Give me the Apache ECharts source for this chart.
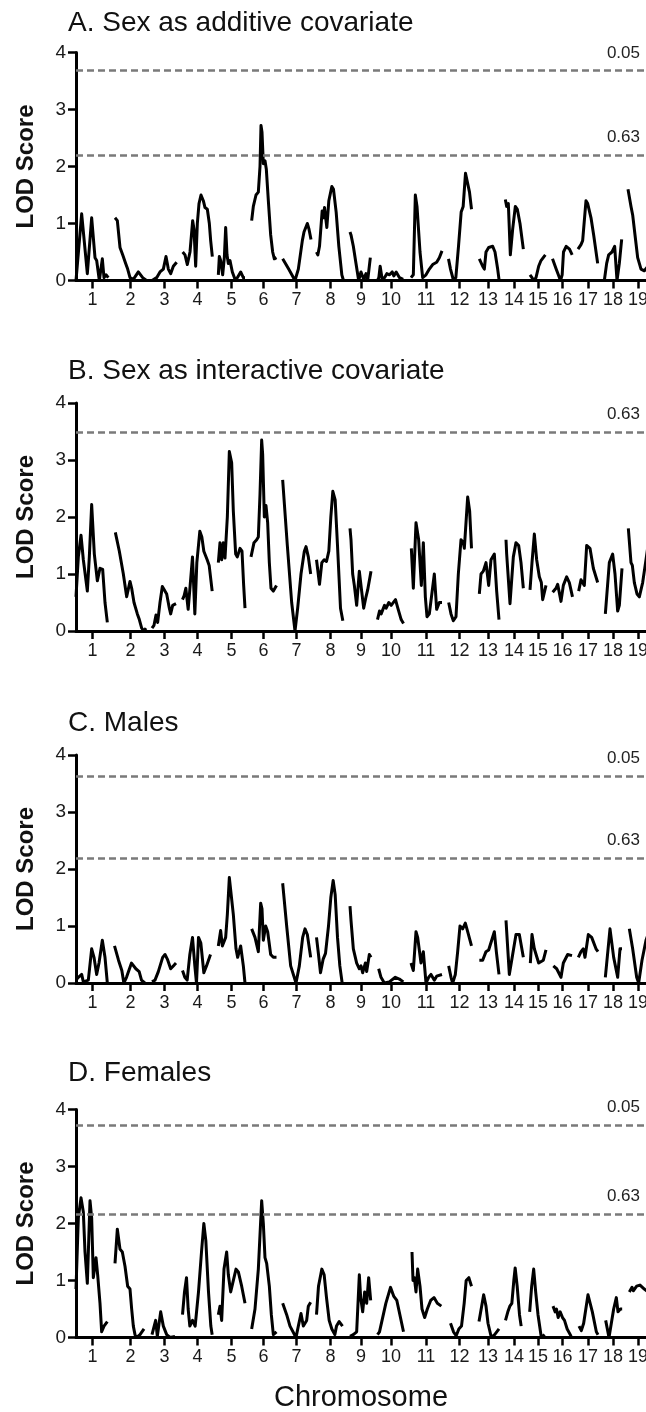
<!DOCTYPE html>
<html><head><meta charset="utf-8">
<script src="https://cdn.jsdelivr.net/npm/echarts@6/dist/echarts.min.js"></script>
<style>html,body{margin:0;padding:0;background:#fff}#c{width:646px;height:1412px}</style>
</head><body><div id="c"></div><script>
// ---------- data ----------
const chromNames = ['1','2','3','4','5','6','7','8','9','10','11','12','13','14','15','16','17','18','19'];
const chromLengths = [99,96,75,90,81,78,87,84,66,81,96,72,66,57,54,60,60,57,60]; // cM
const chromGap = 16.5;      // cM gap drawn between chromosomes
const genomeAxisMax = 1710; // right end of the visible axis (cM)
const lodTicks = [0, 1, 2, 3, 4];
const panelTitles = ['A. Sex as additive covariate', 'B. Sex as interactive covariate', 'C. Males', 'D. Females'];
const thresholdValuesA = [3.68, 2.20];
const thresholdLabelsA = ['0.05', '0.63'];
const thresholdValuesB = [3.49];
const thresholdLabelsB = ['0.63'];
const thresholdValuesC = [3.63, 2.19];
const thresholdLabelsC = ['0.05', '0.63'];
const thresholdValuesD = [3.73, 2.17];
const thresholdLabelsD = ['0.05', '0.63'];

// LOD profiles: per chromosome, [position within chromosome (cM), LOD]
const panelA = [
 [[0,0.0],[17,1.17],[34,0.12],[47,1.1],[57,0.4],[62,0.35],[70,0.0],[79,0.38],[84,0.05],[90,0.1],[97,0.05]],
 [[1.5,1.1],[8.5,1.05],[16.5,0.58],[24.5,0.45],[33.5,0.3],[39.5,0.2],[46.5,0.05],[56.5,0.02],[71.5,0.15],[84.5,0.05],[96,0.0]],
 [[0,0.0],[14,0.05],[24,0.15],[34,0.2],[42,0.42],[49,0.2],[56,0.12],[64,0.25],[74,0.32]],
 [[0.5,0.5],[7.5,0.45],[14.5,0.28],[22.5,0.5],[30.5,1.05],[34.5,0.9],[39.5,0.25],[44.5,1.0],[49.5,1.35],[55.5,1.5],[62.5,1.4],[67.5,1.28],[74.5,1.25],[80.5,1.0],[84.5,0.7],[89.5,0.42]],
 [[1,0.1],[4,0.42],[8,0.35],[14,0.1],[19,0.4],[23,0.93],[27,0.45],[31,0.3],[36,0.35],[43,0.15],[51,0.02],[58,0.05],[68,0.15],[76,0.05],[81,0.05]],
 [[3.5,1.05],[8.5,1.3],[16.5,1.5],[23.5,1.55],[28.5,2.0],[31.5,2.72],[34.5,2.6],[38.5,2.05],[43.5,2.1],[47.5,1.95],[53.5,1.4],[60.5,0.8],[66.5,0.5],[71.5,0.38],[78,0.4]],
 [[2,0.38],[20,0.2],[39,0.0],[49,0.2],[61,0.7],[66,0.85],[76,1.0],[81,0.9],[87,0.72]],
 [[0,0.5],[4,0.45],[9,0.6],[17,1.22],[21,1.1],[24,1.28],[31,0.93],[37,1.4],[46,1.65],[51,1.6],[59,1.2],[67,0.6],[76,0.1],[81,0.0]],
 [[0,0.85],[3,0.8],[10,0.6],[18,0.3],[26,0.0],[33,0.15],[41,0.02],[48,0.12],[53,0.0],[61,0.4]],
 [[0,0.0],[4,0.05],[8,0.25],[14,0.02],[21,0.05],[28,0.12],[36,0.1],[44,0.15],[49,0.08],[56,0.15],[66,0.05],[77,0.02]],
 [[3,0.05],[10,0.1],[16,1.5],[21,1.3],[30,0.5],[38,0.05],[48,0.1],[58,0.2],[68,0.28],[80,0.32],[88,0.4],[96,0.52]],
 [[3,0.38],[9,0.2],[18,0.0],[25,0.05],[33,0.6],[41,1.2],[47,1.3],[54,1.88],[60,1.9],[66,1.55],[72,1.25]],
 [[7,0.38],[17,0.25],[22,0.2],[27,0.5],[35,0.58],[47,0.6],[54,0.5],[62,0.2],[66,0.02]],
 [[2.5,1.42],[6.5,1.3],[11.5,1.35],[17.5,0.45],[24.5,0.9],[32.5,1.3],[38.5,1.25],[46.5,1.0],[56.5,0.55]],
 [[3,0.1],[9,0.05],[13,0.0],[21,0.05],[29,0.25],[36,0.35],[49,0.45]],
 [[0,0.38],[11,0.2],[24,0.0],[29,0.1],[33,0.5],[41,0.6],[51,0.55],[59,0.45]],
 [[0,0.55],[9,0.63],[14,0.7],[24,1.4],[29,1.35],[39,1.1],[47,0.8],[59,0.3]],
 [[2.5,0.0],[9.5,0.3],[15.5,0.45],[25.5,0.5],[33.5,0.6],[40.5,0.0],[47.5,0.3],[54.5,0.72]],
 [[0,1.6],[9,1.3],[14,1.15],[22,0.75],[29,0.4],[39,0.2],[49,0.17],[60,0.25]]
];
const panelB = [
 [[0,0.6],[7,1.3],[15,1.68],[22,1.25],[34,0.7],[40,1.3],[47,2.22],[55,1.35],[64,0.88],[72,1.1],[80,1.08],[87,0.5],[94,0.15]],
 [[2.5,1.73],[14.5,1.4],[26.5,1.0],[36.5,0.6],[46.5,0.87],[51.5,0.75],[58.5,0.5],[68.5,0.3],[74.5,0.2],[81.5,0.05],[88.5,0.0],[94.5,0.05]],
 [[0,0.05],[6,0.1],[12,0.28],[17,0.15],[24,0.5],[31,0.78],[37,0.8],[44,0.65],[52,0.4],[56,0.3],[62,0.45],[72,0.48]],
 [[0,0.55],[5,0.62],[10,0.75],[17,0.38],[23,0.8],[30,1.3],[37,0.3],[43,1.2],[52,1.75],[58,1.65],[64,1.4],[74,1.25],[80,1.15],[89,0.7]],
 [[1,1.2],[6,1.55],[11,1.25],[16,1.55],[21,1.28],[28,2.0],[34,3.15],[41,2.95],[46,2.1],[53,1.35],[58,1.3],[66,1.45],[72,1.4],[77,0.8],[81,0.4]],
 [[1.5,1.3],[10.5,1.55],[18.5,1.6],[23.5,1.65],[28.5,2.4],[33.5,3.35],[36.5,3.1],[41.5,2.0],[46.5,2.2],[51.5,1.9],[56.5,1.2],[61.5,0.75],[68.5,0.7],[78,0.8]],
 [[2,2.65],[16,1.5],[29,0.5],[39,0.0],[47,0.4],[57,1.0],[67,1.4],[72,1.48],[79,1.3],[86,1.0]],
 [[0,1.25],[9,0.82],[16,1.2],[23,1.25],[30,1.22],[37,1.4],[43,2.0],[49,2.45],[56,2.3],[63,1.5],[72,0.4],[79,0.18]],
 [[0,1.8],[3,1.6],[8,1.0],[13,0.8],[20,0.45],[28,1.05],[35,0.7],[41,0.4],[48,0.6],[53,0.72],[63,1.05]],
 [[0,0.2],[6,0.35],[11,0.3],[21,0.45],[26,0.4],[34,0.5],[41,0.45],[54,0.55],[61,0.4],[71,0.2],[78,0.13]],
 [[4,1.45],[10,0.75],[18,1.9],[26,1.6],[34,0.8],[40,1.55],[46,0.6],[51,0.25],[58,0.3],[73,1.0],[80,0.38],[88,0.5],[96,0.5]],
 [[3.5,0.5],[10.5,0.3],[17.5,0.18],[25.5,0.25],[32.5,1.0],[40.5,1.6],[47.5,1.55],[50.5,1.45],[60.5,2.35],[66.5,2.1],[72,1.45]],
 [[7,0.65],[12,1.0],[19,1.05],[27,1.2],[35,0.8],[42,1.25],[52,1.35],[59,0.7],[66,0.2]],
 [[4.5,1.6],[6.5,1.35],[16.5,0.48],[26.5,1.3],[34.5,1.55],[42.5,1.5],[49.5,1.2],[56.5,0.75]],
 [[3,0.72],[9,1.2],[16,1.7],[23,1.25],[31,0.95],[37,0.85],[41,0.55],[51,0.8]],
 [[0.5,0.68],[10.5,0.75],[15.5,0.82],[25.5,0.52],[32.5,0.8],[42.5,0.95],[50.5,0.85],[60,0.6]],
 [[2,0.7],[9,0.9],[19,0.8],[26,1.5],[36,1.45],[46,1.1],[59,0.85]],
 [[5.5,0.3],[17.5,1.2],[27.5,1.35],[34.5,1.0],[42.5,0.35],[47.5,0.45],[55.5,1.1]],
 [[1,1.8],[9,1.2],[13,1.15],[19,0.85],[27,0.65],[34,0.6],[44,0.85],[54,1.25],[60,1.5]]
];
const panelC = [
 [[0,0.05],[7,0.1],[17,0.15],[22,0.02],[37,0.05],[47,0.6],[54,0.45],[62,0.15],[69,0.35],[79,0.75],[87,0.45],[94,0.0]],
 [[0,0.65],[12,0.4],[22,0.22],[28,0.0],[36,0.1],[51,0.35],[64,0.25],[74,0.2],[81,0.05],[91,0.0]],
 [[0,0.02],[9,0.05],[19,0.2],[32,0.45],[39,0.5],[46,0.42],[56,0.25],[64,0.3],[72,0.35]],
 [[0,0.22],[7,0.1],[14,0.05],[22,0.5],[30,0.8],[37,0.3],[42,0.0],[48,0.8],[55,0.7],[64,0.18],[72,0.3],[84,0.5]],
 [[1,0.65],[8,0.92],[13,0.65],[18,0.65],[23,0.8],[28,1.2],[34,1.85],[39,1.88],[46,1.2],[54,0.6],[59,0.45],[68,0.65],[76,0.3],[81,0.0]],
 [[3.5,0.95],[13.5,0.8],[23.5,0.55],[30.5,1.4],[34.5,1.3],[38.5,0.75],[45.5,1.0],[51.5,0.9],[60.5,0.5],[68.5,0.45],[78,0.45]],
 [[2,1.75],[14,1.0],[26,0.3],[42,0.0],[52,0.3],[62,0.8],[69,0.95],[76,0.85],[86,0.45]],
 [[0,0.8],[6,0.5],[12,0.18],[20,0.42],[27,0.52],[36,1.0],[43,1.5],[50,1.8],[56,1.55],[63,0.8],[70,0.3],[77,0.0]],
 [[0,1.35],[3,1.1],[10,0.6],[20,0.35],[28,0.25],[33,0.3],[38,0.18],[46,0.35],[50,0.2],[58,0.5],[63,0.45]],
 [[3.5,0.25],[10.5,0.1],[20.5,0.0],[35.5,0.02],[53.5,0.1],[65.5,0.07],[77.5,0.02]],
 [[3,0.35],[10,0.22],[18,0.9],[23,0.8],[33,0.35],[40,0.55],[48,0.0],[56,0.1],[63,0.15],[73,0.05],[80,0.12],[96,0.15]],
 [[3.5,0.3],[10.5,0.1],[15.5,0.0],[23.5,0.15],[30.5,0.55],[37.5,1.0],[45.5,0.95],[53.5,1.05],[60.5,0.9],[72,0.65]],
 [[7,0.4],[17,0.4],[27,0.55],[35,0.58],[52,0.9],[58,0.55],[66,0.15]],
 [[4.5,1.1],[14.5,0.15],[24.5,0.5],[34.5,0.85],[44.5,0.85],[56.5,0.45]],
 [[4,0.35],[9,0.85],[16,0.6],[29,0.35],[43,0.4],[51,0.58]],
 [[2.5,0.3],[12.5,0.25],[25.5,0.1],[32.5,0.35],[45.5,0.5],[58.5,0.48]],
 [[1,0.45],[9,0.55],[16,0.6],[21,0.45],[31,0.85],[41,0.8],[54,0.6],[60,0.55]],
 [[5.5,0.1],[19.5,0.95],[30.5,0.45],[42.5,0.1],[49.5,0.6],[55.5,0.6]],
 [[4,0.95],[14,0.6],[26,0.1],[32,0.0],[42,0.4],[54,0.75],[60,0.85]]
];
const panelD = [
 [[0,0.85],[7,2.1],[15,2.45],[22,2.2],[27,1.5],[34,0.95],[42,2.4],[47,2.1],[52,1.05],[60,1.4],[65,1.1],[72,0.6],[77,0.1],[84,0.2],[94,0.28]],
 [[1.5,1.3],[8.5,1.9],[16.5,1.55],[23.5,1.5],[31.5,1.25],[39.5,0.9],[46.5,0.85],[51.5,0.5],[56.5,0.2],[61.5,0.05],[66.5,0.0],[76.5,0.05],[88.5,0.15]],
 [[0,0.05],[6,0.05],[11,0.3],[16,0.02],[26,0.45],[34,0.2],[44,0.05],[54,0.0],[69,0.02]],
 [[0,0.4],[6,0.8],[12,1.05],[17,0.5],[22,0.2],[30,0.3],[38,0.2],[48,0.8],[57,1.5],[64,2.0],[70,1.7],[78,0.8],[85,0.2],[89,0.05]],
 [[1,0.4],[6,0.55],[11,0.3],[18,1.2],[26,1.5],[31,1.1],[38,0.8],[44,0.95],[54,1.2],[61,1.15],[71,0.9],[81,0.6]],
 [[3.5,0.15],[13.5,0.5],[23.5,1.2],[28.5,1.8],[33.5,2.4],[38.5,2.0],[43.5,1.4],[48.5,1.3],[56.5,0.9],[62.5,0.4],[68.5,0.05],[78,0.1]],
 [[2,0.6],[14,0.4],[24,0.2],[42,0.0],[49,0.2],[57,0.42],[64,0.2],[74,0.3],[79,0.55],[86,0.62]],
 [[0,0.4],[6,0.9],[16,1.2],[23,1.1],[30,0.7],[38,0.3],[46,0.15],[55,0.05],[60,0.2],[68,0.28],[78,0.2]],
 [[0,0.02],[10,0.05],[20,0.1],[28,1.1],[32,0.7],[38,0.45],[44,0.8],[50,0.6],[56,1.05],[62,0.65]],
 [[0,0.05],[6,0.1],[25,0.6],[39,0.88],[49,0.72],[58,0.65],[78,0.1]],
 [[6,1.5],[9,1.0],[13,1.05],[18,0.8],[23,1.2],[30,0.9],[36,0.5],[44,0.35],[52,0.5],[62,0.65],[72,0.7],[82,0.6],[94,0.55]],
 [[9,0.25],[18,0.1],[26,0.03],[34,0.15],[42,0.2],[50,0.6],[56,1.0],[64,1.05],[72,0.9]],
 [[6,0.28],[20,0.75],[27,0.55],[33,0.25],[43,0.0],[53,0.05],[66,0.15]],
 [[3,0.3],[10,0.45],[16,0.55],[22,0.6],[28,1.0],[32,1.22],[38,0.9],[45,0.4],[50,0.2]],
 [[2,0.45],[8,0.9],[14,1.2],[20,0.8],[27,0.4],[37,0.0],[47,0.05]],
 [[1.5,0.55],[8,0.45],[12,0.5],[17,0.35],[23,0.45],[30,0.35],[36,0.3],[44,0.15],[56,0.02]],
 [[3,0.2],[10,0.12],[17,0.25],[30,0.75],[43,0.45],[55,0.1],[60,0.05]],
 [[6.5,0.3],[16.5,0.0],[30.5,0.5],[38.5,0.7],[43.5,0.45],[50.5,0.5],[56,0.5]],
 [[4,0.8],[12,0.88],[16,0.82],[26,0.9],[36,0.92],[49,0.85],[60,0.8]]
];

// ---------- layout / style ----------
const FONT = "'Liberation Sans', Arial, Helvetica, sans-serif";
const panels = [panelA, panelB, panelC, panelD];
const thrVals = [thresholdValuesA, thresholdValuesB, thresholdValuesC, thresholdValuesD];
const thrLabs = [thresholdLabelsA, thresholdLabelsB, thresholdLabelsC, thresholdLabelsD];
const gridTops = [52.5, 403, 755, 1109.5];
const titleTops = [9, 357, 709, 1059];
const GRID_H = 228, GRID_L = 76;

const chromStarts = [];
chromLengths.forEach((L, i) => {
  chromStarts.push(i === 0 ? 0 : chromStarts[i - 1] + chromLengths[i - 1] + chromGap);
});
const chromMids = chromStarts.map((s, i) => s + chromLengths[i] / 2);
function chromLabel(v) {
  let best = 0, d = Infinity;
  chromMids.forEach((m, i) => { if (Math.abs(m - v) < d) { d = Math.abs(m - v); best = i; } });
  return chromNames[best];
}

const option = { animation: false, backgroundColor: '#fff', title: [], grid: [], xAxis: [], yAxis: [], series: [] };

panels.forEach((panel, p) => {
  option.title.push({ text: panelTitles[p], left: 68, top: titleTops[p], padding: 0,
    textStyle: { fontFamily: FONT, fontSize: 28, fontWeight: 'normal', color: '#111' } });
  option.grid.push({ left: GRID_L, right: 0, top: gridTops[p], height: GRID_H, containLabel: false, outerBoundsMode: 'none' });
  option.xAxis.push({
    gridIndex: p, type: 'value', min: 0, max: genomeAxisMax,
    axisLine: { show: true, onZero: false, lineStyle: { color: '#000', width: 3 } },
    axisTick: { show: true, customValues: chromMids, length: 8, lineStyle: { color: '#000', width: 2.5 } },
    axisLabel: { show: true, customValues: chromMids, formatter: chromLabel, fontFamily: FONT, fontSize: 18, color: '#1a1a1a', margin: 11 },
    splitLine: { show: false },
    name: p === 3 ? 'Chromosome' : '', nameLocation: 'middle', nameGap: 46,
    nameTextStyle: { fontFamily: FONT, fontSize: 29, color: '#111' }
  });
  option.yAxis.push({
    gridIndex: p, type: 'value', min: lodTicks[0], max: lodTicks[lodTicks.length - 1], interval: 1,
    axisLine: { show: true, lineStyle: { color: '#000', width: 3 } },
    axisTick: { show: true, length: 8, lineStyle: { color: '#000', width: 2.5 } },
    axisLabel: { fontFamily: FONT, fontSize: 19, color: '#1a1a1a', margin: 10 },
    splitLine: { show: false },
    name: 'LOD Score', nameLocation: 'middle', nameGap: 38,
    nameTextStyle: { fontFamily: FONT, fontSize: 24, fontWeight: 'bold', color: '#111' }
  });
  panel.forEach((prof, i) => {
    const s = {
      type: 'line', xAxisIndex: p, yAxisIndex: p, silent: true, animation: false,
      showSymbol: false, symbol: 'none', clip: true,
      lineStyle: { color: '#000', width: 3, join: 'round' },
      data: prof.map(([pos, lod]) => [chromStarts[i] + pos, lod])
    };
    if (i === 0) {
      s.markLine = {
        silent: true, animation: false, symbol: 'none',
        lineStyle: { type: [7, 4], color: '#7a7a7a', width: 2.5 },
        label: { show: true, position: 'insideEndTop', formatter: '{b}', distance: [6, 9],
          fontFamily: FONT, fontSize: 17, color: '#222' },
        data: thrVals[p].map((v, k) => ({ yAxis: v, name: thrLabs[p][k] }))
      };
    }
    option.series.push(s);
  });
});

const chart = echarts.init(document.getElementById('c'), null, { renderer: 'canvas' });
chart.setOption(option);
</script></body></html>
